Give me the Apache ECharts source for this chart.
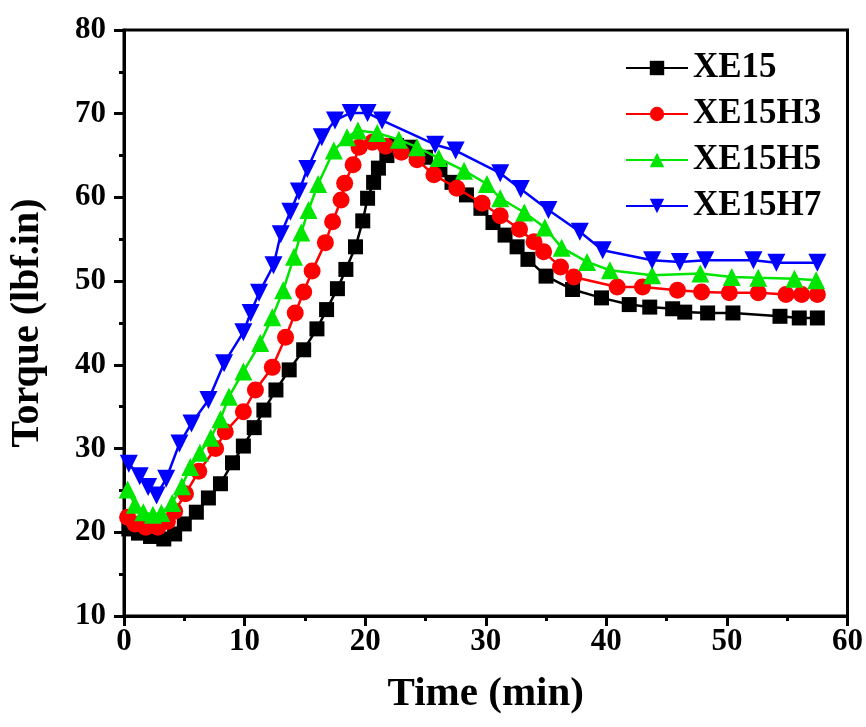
<!DOCTYPE html>
<html>
<head>
<meta charset="utf-8">
<script src="https://cdn.jsdelivr.net/npm/echarts@6/dist/echarts.min.js"></script>
<style>html,body{margin:0;padding:0;background:#fff;}#c{width:866px;height:727px;}</style>
</head>
<body>
<div id="c"></div>
<script>
var seriesNames = ['XE15', 'XE15H3', 'XE15H5', 'XE15H7'];
var xTicks = [0, 10, 20, 30, 40, 50, 60];
var yTicks = [10, 20, 30, 40, 50, 60, 70, 80];

var xe15 = [[0.4,20.4],[1.2,19.9],[2.2,19.5],[3.3,19.2],[4.2,19.8],[5.0,21.0],[6.0,22.4],[7.0,24.1],[8.0,25.8],[9.0,28.3],[9.9,30.3],[10.8,32.5],[11.6,34.6],[12.6,37.0],[13.7,39.4],[14.9,41.8],[16.0,44.3],[16.8,46.6],[17.7,49.1],[18.4,51.4],[19.2,54.1],[19.8,57.2],[20.2,59.9],[20.7,61.8],[21.1,63.5],[21.8,65.0],[22.6,66.2],[23.7,66.0],[25.0,64.8],[26.2,63.3],[27.2,61.8],[28.4,60.3],[29.6,58.7],[30.6,57.0],[31.6,55.5],[32.6,54.1],[33.5,52.6],[35.0,50.6],[37.2,49.0],[39.6,48.0],[41.9,47.2],[43.6,46.9],[45.5,46.7],[46.5,46.3],[48.4,46.2],[50.5,46.2],[54.4,45.8],[56.0,45.6],[57.5,45.6]];
var xe15h3 = [[0.3,21.8],[0.9,21.0],[1.8,20.6],[2.8,20.6],[3.6,21.3],[4.2,22.5],[5.1,24.6],[6.2,27.3],[7.6,30.0],[8.4,32.0],[9.9,34.4],[10.9,37.0],[12.3,39.7],[13.4,43.3],[14.2,46.2],[14.9,48.7],[15.6,51.2],[16.7,54.6],[17.3,57.1],[18.0,59.7],[18.3,61.7],[19.0,63.9],[19.5,66.0],[20.6,66.6],[21.7,66.1],[23.0,65.4],[24.3,64.5],[25.7,62.7],[27.6,61.1],[29.7,59.3],[31.2,57.8],[32.8,56.2],[34.0,54.7],[34.8,53.5],[36.2,51.7],[37.3,50.5],[40.9,49.3],[43.0,49.3],[45.9,48.9],[47.9,48.7],[50.2,48.6],[52.6,48.6],[54.9,48.4],[56.2,48.4],[57.5,48.4]];
var xe15h5 = [[0.3,25.1],[0.9,23.3],[1.6,22.4],[2.4,22.1],[3.1,22.3],[4.0,23.5],[4.8,25.5],[5.5,27.8],[6.3,29.5],[7.2,31.3],[8.0,33.5],[8.7,36.2],[9.9,39.2],[11.3,42.6],[12.3,45.7],[13.2,48.9],[14.1,52.9],[14.7,55.8],[15.3,58.5],[16.1,61.6],[17.4,65.6],[18.5,67.2],[19.4,68.0],[21.0,67.7],[22.8,66.9],[24.3,66.0],[26.1,64.7],[28.2,63.2],[30.1,61.6],[31.2,59.9],[33.2,58.2],[34.9,56.4],[36.3,54.0],[38.4,52.3],[40.3,51.3],[43.8,50.7],[47.8,50.9],[50.4,50.5],[52.6,50.4],[55.6,50.3],[57.4,50.1]];
var xe15h7 = [[0.4,28.2],[1.3,26.7],[2.0,25.4],[2.7,24.4],[3.5,26.4],[4.6,30.6],[5.6,33.0],[7.0,35.8],[8.3,40.2],[9.9,43.9],[10.5,46.2],[11.2,48.6],[12.4,51.9],[13.0,55.6],[13.8,58.3],[14.5,60.7],[15.2,63.4],[16.4,67.2],[17.5,69.2],[18.8,70.1],[20.2,70.1],[21.4,69.2],[25.8,66.3],[27.5,65.6],[31.2,62.9],[32.9,61.0],[35.2,58.5],[37.8,55.9],[39.7,53.7],[43.8,52.5],[46.1,52.3],[48.2,52.5],[52.2,52.5],[54.1,52.2],[57.5,52.2]];

var dataSets = [xe15, xe15h3, xe15h5, xe15h7];
var colors = ['#000000', '#ff0000', '#00e600', '#0000ff'];
var symbols = ['rect', 'circle', 'triangle', 'path://M0,0 L10,0 L5,10 Z'];
var sizes = [15, 17, 18, 18];

var font = '"Liberation Serif", "Times New Roman", serif';
var chart = echarts.init(document.getElementById('c'), null, {renderer: 'canvas'});

var series = seriesNames.map(function (n, i) {
  return {
    name: n, type: 'line', data: dataSets[i],
    symbol: symbols[i], symbolSize: sizes[i], showAllSymbol: true,
    itemStyle: {color: colors[i]},
    lineStyle: {color: colors[i], width: 2.5},
    z: 2 + i
  };
});

chart.setOption({
  animation: false,
  backgroundColor: '#fff',
  grid: {left: 123, top: 30, right: 18, bottom: 111, show: true, borderColor: '#000', borderWidth: 3, backgroundColor: 'transparent'},
  legend: {
    orient: 'vertical', left: 620, top: 45, itemWidth: 62, itemHeight: 18, itemGap: 10,
    data: seriesNames,
    textStyle: {fontFamily: font, fontWeight: 'bold', fontSize: 35, color: '#000', lineHeight: 36}
  },
  xAxis: {
    type: 'value', min: xTicks[0], max: xTicks[xTicks.length - 1], interval: 10,
    name: 'Time (min)', nameLocation: 'middle', nameGap: 58,
    nameTextStyle: {fontFamily: font, fontWeight: 'bold', fontSize: 41, color: '#000'},
    axisLine: {show: true, lineStyle: {color: '#000', width: 3}},
    axisTick: {show: true, inside: false, length: 10, lineStyle: {width: 3, color: '#000'}},
    minorTick: {show: true, splitNumber: 2, length: 5, lineStyle: {width: 3, color: '#000'}},
    splitLine: {show: false},
    axisLabel: {fontFamily: font, fontWeight: 'bold', fontSize: 31, color: '#000', margin: 10}
  },
  yAxis: {
    type: 'value', min: yTicks[0], max: yTicks[yTicks.length - 1], interval: 10,
    name: 'Torque (lbf.in)', nameLocation: 'middle', nameGap: 76, nameRotate: 90,
    nameTextStyle: {fontFamily: font, fontWeight: 'bold', fontSize: 40, color: '#000'},
    axisLine: {show: true, lineStyle: {color: '#000', width: 3}},
    axisTick: {show: true, inside: false, length: 10, lineStyle: {width: 3, color: '#000'}},
    minorTick: {show: true, splitNumber: 2, length: 5, lineStyle: {width: 3, color: '#000'}},
    splitLine: {show: false},
    axisLabel: {fontFamily: font, fontWeight: 'bold', fontSize: 31, color: '#000', margin: 18}
  },
  series: series
});
</script>
</body>
</html>
